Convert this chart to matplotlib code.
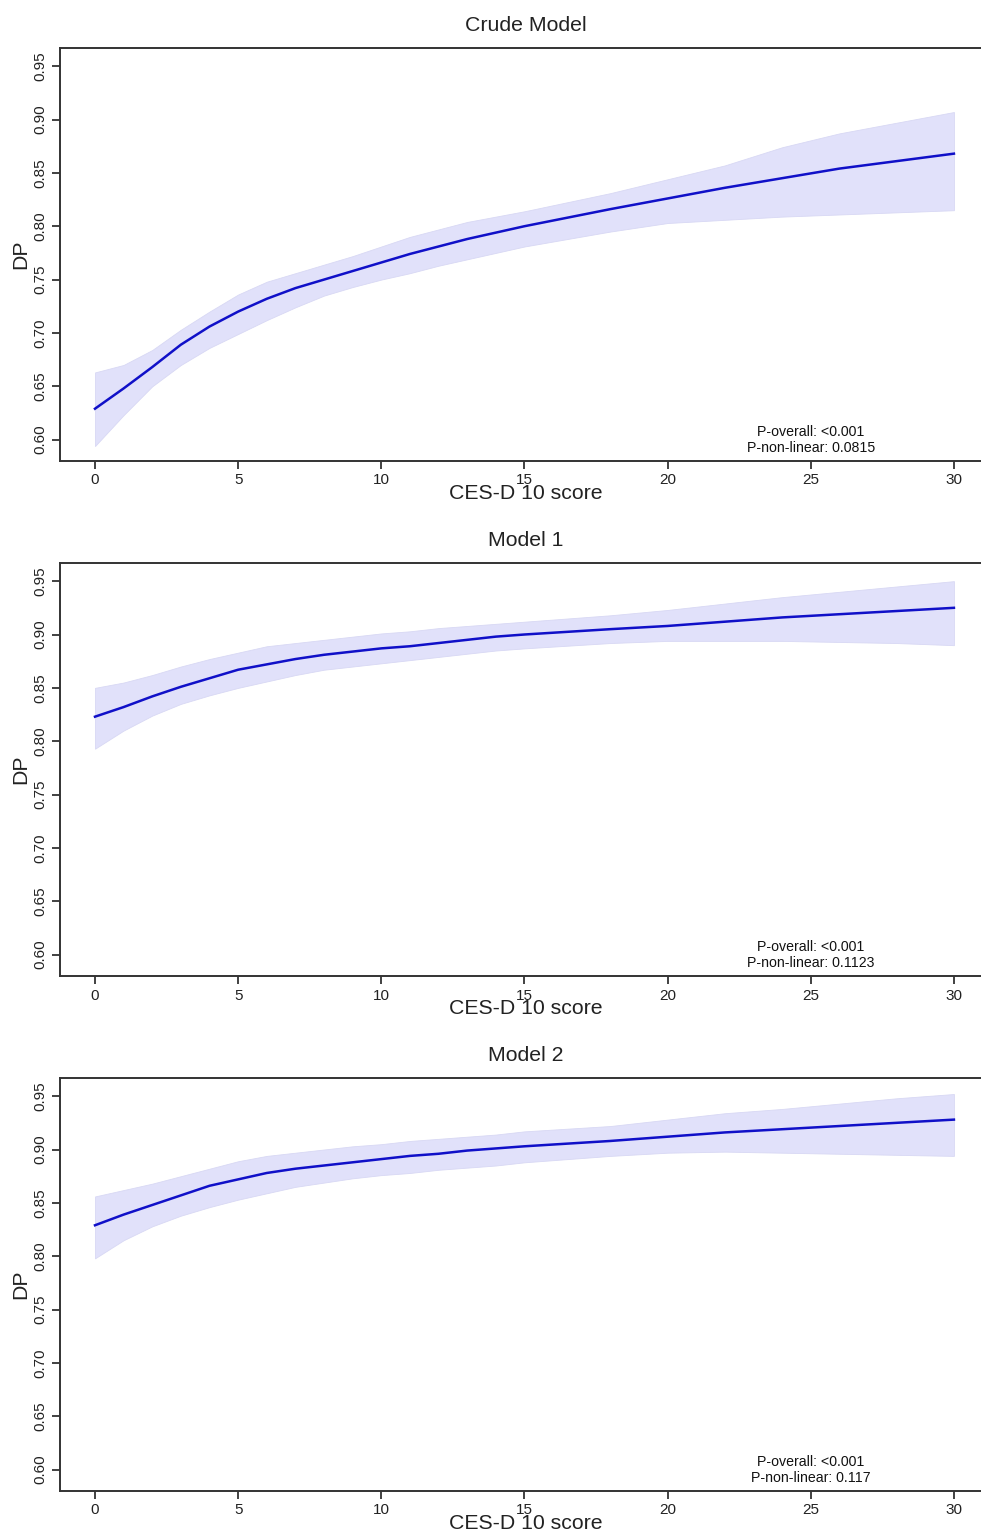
import numpy as np
import matplotlib
matplotlib.use("Agg")
import matplotlib.pyplot as plt

plt.rcParams['font.family'] = ['Liberation Sans', 'DejaVu Sans']

# CES-D 10 score grid
score = [0, 1, 2, 3, 4, 5, 6, 7, 8, 9, 10, 11, 12, 13, 14, 15, 18, 20, 22, 24, 26, 28, 30]

# Crude model
crude_fit = [0.629, 0.648, 0.668, 0.689, 0.706, 0.720, 0.732, 0.742, 0.750, 0.758, 0.766, 0.774,
             0.781, 0.788, 0.794, 0.800, 0.816, 0.826, 0.836, 0.845, 0.854, 0.861, 0.868]
crude_hi = [0.663, 0.670, 0.684, 0.703, 0.720, 0.736, 0.748, 0.756, 0.764, 0.772, 0.781, 0.790,
            0.797, 0.804, 0.809, 0.814, 0.831, 0.844, 0.857, 0.874, 0.887, 0.897, 0.907]
crude_lo = [0.594, 0.623, 0.650, 0.670, 0.686, 0.699, 0.712, 0.724, 0.735, 0.743, 0.750, 0.756,
            0.763, 0.769, 0.775, 0.781, 0.795, 0.803, 0.806, 0.809, 0.811, 0.813, 0.815]

# Model 1
m1_fit = [0.823, 0.832, 0.842, 0.851, 0.859, 0.867, 0.872, 0.877, 0.881, 0.884, 0.887, 0.889,
          0.892, 0.895, 0.898, 0.900, 0.905, 0.908, 0.912, 0.916, 0.919, 0.922, 0.925]
m1_hi = [0.850, 0.855, 0.862, 0.870, 0.877, 0.883, 0.889, 0.892, 0.895, 0.898, 0.901, 0.903,
         0.906, 0.908, 0.910, 0.912, 0.918, 0.923, 0.929, 0.935, 0.940, 0.945, 0.950]
m1_lo = [0.793, 0.810, 0.824, 0.835, 0.843, 0.850, 0.856, 0.862, 0.867, 0.870, 0.873, 0.876,
         0.879, 0.882, 0.885, 0.887, 0.892, 0.894, 0.894, 0.894, 0.893, 0.892, 0.890]

# Model 2
m2_fit = [0.829, 0.839, 0.848, 0.857, 0.866, 0.872, 0.878, 0.882, 0.885, 0.888, 0.891, 0.894,
          0.896, 0.899, 0.901, 0.903, 0.908, 0.912, 0.916, 0.919, 0.922, 0.925, 0.928]
m2_hi = [0.856, 0.862, 0.868, 0.875, 0.882, 0.889, 0.894, 0.897, 0.900, 0.903, 0.905, 0.908,
         0.910, 0.912, 0.914, 0.917, 0.922, 0.928, 0.934, 0.938, 0.943, 0.948, 0.952]
m2_lo = [0.798, 0.815, 0.828, 0.838, 0.846, 0.853, 0.859, 0.865, 0.869, 0.873, 0.876, 0.878,
         0.881, 0.883, 0.885, 0.888, 0.894, 0.897, 0.898, 0.897, 0.896, 0.895, 0.894]

titles = ['Crude Model', 'Model 1', 'Model 2']
p_texts = ['P-overall: <0.001\nP-non-linear: 0.0815',
           'P-overall: <0.001\nP-non-linear: 0.1123',
           'P-overall: <0.001\nP-non-linear: 0.117']
fits = [crude_fit, m1_fit, m2_fit]
his = [crude_hi, m1_hi, m2_hi]
los = [crude_lo, m1_lo, m2_lo]

W, H = 981, 1535
fig = plt.figure(figsize=(W / 100, H / 100), dpi=100)

ax_left, ax_right = 60, 992
panel_tops = [48, 563, 1078]
panel_h = 413
spine_col = '#333333'

for i in range(3):
    top = panel_tops[i]
    ax = fig.add_axes([ax_left / W, 1 - (top + panel_h) / H,
                       (ax_right - ax_left) / W, panel_h / H])
    ax.fill_between(score, los[i], his[i], color='#e1e1fa', edgecolor='#d8d8f4', linewidth=0.6)
    ax.plot(score, fits[i], color='#1010c8', linewidth=1.8)

    ax.set_xlim(-1.222, 31.33)
    ax.set_ylim(0.580, 0.967)
    ax.set_xticks([0, 5, 10, 15, 20, 25, 30])
    ax.set_yticks([0.60, 0.65, 0.70, 0.75, 0.80, 0.85, 0.90, 0.95])
    ax.set_yticklabels(['0.60', '0.65', '0.70', '0.75', '0.80', '0.85', '0.90', '0.95'])
    ax.tick_params(axis='both', length=6, width=1.3, color=spine_col, labelsize=11,
                   labelcolor='#222222', pad=3)
    ax.tick_params(axis='y', labelrotation=90)
    for lab in ax.get_yticklabels():
        lab.set_va('center')

    for s in ['left', 'bottom', 'top']:
        ax.spines[s].set_color(spine_col)
        ax.spines[s].set_linewidth(1.4)
    ax.spines['right'].set_visible(False)

    ax.set_title(titles[i], fontsize=15.3, color='#222222', pad=12)
    ax.set_xlabel('CES-D 10 score', fontsize=15.3, color='#222222')
    ax.xaxis.set_label_coords(0.5, -0.056)
    ax.set_ylabel('DP', fontsize=15.3, color='#222222')
    ax.yaxis.set_label_coords(-0.032, 0.5)

    ax.text(25, 0.5855, p_texts[i], ha='center', va='bottom', fontsize=10.2,
            color='#111111', linespacing=1.2, multialignment='center')

fig.savefig('out.png', dpi=100)
